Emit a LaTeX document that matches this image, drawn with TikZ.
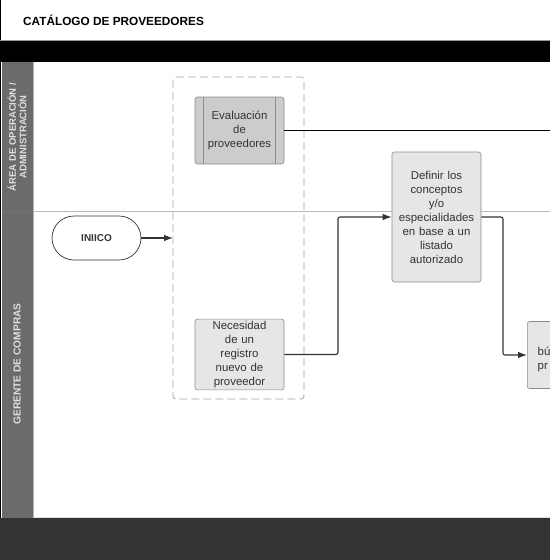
\documentclass[tikz,border=0pt]{standalone}
\usepackage{fontspec}
\setmainfont{Liberation Sans}
\usetikzlibrary{arrows.meta,positioning}
\definecolor{lanehead}{HTML}{6B6B6B}
\definecolor{footer}{HTML}{333333}
\definecolor{boxfill}{HTML}{E6E6E6}
\definecolor{subfill}{HTML}{CCCCCC}
\definecolor{boxline}{HTML}{8C8C8C}
\definecolor{txt}{HTML}{333333}
\tikzset{
  procbox/.style={draw=boxline, fill=boxfill, rounded corners=2.5pt, line width=0.6pt,
    minimum width=89pt, inner sep=2pt, align=center, text=txt,
    font=\fontsize{11.4}{14}\selectfont, text width=85pt},
  subbox/.style={procbox, fill=subfill},
  startbox/.style={draw=txt, rounded corners=22pt, minimum width=89pt, minimum height=44pt,
    line width=0.7pt, font=\bfseries\fontsize{10}{12}\selectfont, text=txt},
  conn/.style={draw=txt, line width=1.1pt, rounded corners=2pt},
  arr/.style={-{Latex[length=9pt,width=6.5pt]}},
  lanelabel/.style={rotate=90, text=white!88!black, font=\bfseries\fontsize{9.5}{10.5}\selectfont, align=center},
}
\begin{document}
\begin{tikzpicture}[x=1pt,y=-1pt]
\useasboundingbox (0,0) rectangle (550,560);
\begin{scope}
\clip (0,0) rectangle (550,560);
% background
\fill[white] (0,0) rectangle (550,560);
\draw[black, line width=1pt] (0.5,0) -- (0.5,560);
% title
\node[anchor=west, inner xsep=0pt, font=\bfseries\fontsize{11.8}{14}\selectfont, text=black] (title) at (23,20) {CATÁLOGO DE PROVEEDORES};
% black band
\fill[black] (0,40) rectangle (550,62);
\draw[gray!80, line width=0.8pt] (0,40.4) -- (550,40.4);
% lane header column
\fill[lanehead] (2,62) rectangle (33,518);
\draw[gray!60, line width=0.8pt] (33.3,62) -- (33.3,518);
\draw[gray!45!lanehead, line width=1pt] (2,211) -- (33,211);
% lane divider
\draw[gray!55, line width=0.8pt] (33,211) -- (550,211);
% footer
\fill[footer] (0,518) rectangle (550,560);
\draw[gray!25, line width=0.6pt] (33,517.7) -- (550,517.7);
% lane labels
\node[lanelabel] (lane1) at (17,137) {ÁREA DE OPERACIÓN /\\ADMINISTRACIÓN};
\node[lanelabel, font=\bfseries\fontsize{10.2}{11}\selectfont] (lane2) at (17,364) {GERENTE DE COMPRAS};
% dashed group
\draw[gray!70, dash pattern=on 8pt off 4pt, line width=0.8pt, rounded corners=3pt] (173,77) rectangle (304,399);
\coordinate (grpleft) at (173,238);
% nodes
\node[startbox] (inicio) at (96.5,238) {INIICO};
\node[subbox, minimum height=67pt] (eval) at (239.5,130.5) {Evaluación\\de\\proveedores};
\draw[boxline, line width=0.6pt] ([xshift=9pt]eval.north west) -- ([xshift=9pt]eval.south west);
\draw[boxline, line width=0.6pt] ([xshift=-9pt]eval.north east) -- ([xshift=-9pt]eval.south east);
\node[procbox, minimum height=67pt] (nec) at (239.5,354.5) {Necesidad\\de un\\registro\\nuevo de\\proveedor};
\node[procbox, minimum height=130pt] (def) at (436.5,217) {Definir los\\conceptos\\y/o\\especialidades\\en base a un\\listado\\autorizado};
\node[procbox, minimum height=67pt, text width=85pt, anchor=west] (bus) at (527,355) {};
\node[anchor=west, inner sep=0pt, align=left, text=txt, font=\fontsize{11.4}{14}\selectfont] (bustext) at (537.5,359.5) {bú\\pr};
\coordinate (evalend) at (552,130.5);
% connectors
\draw[black, line width=1.5pt] (eval.east) -- (evalend);
\draw[conn, arr] (inicio.east) -- (grpleft);
\draw[conn, arr] (nec.east) -- (338,354.5) -- (338,217) -- (def.west);
\draw[conn, arr] (def.east) -- (503,217) -- (503,355) -- (bus.west);
\end{scope}
\end{tikzpicture}
\end{document}
